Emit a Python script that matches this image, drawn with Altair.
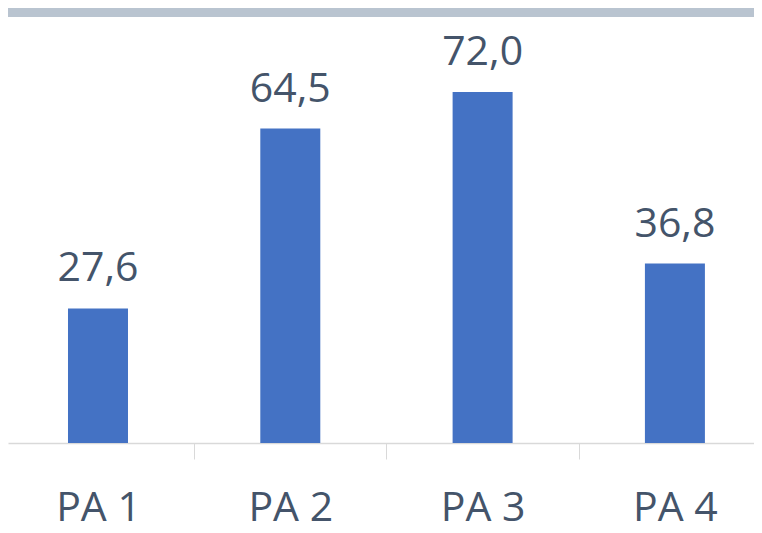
import altair as alt
import pandas as pd

categories = ["PA 1", "PA 2", "PA 3", "PA 4"]
values = [27.6, 64.5, 72.0, 36.8]
labels = [f"{v:.1f}".replace(".", ",") for v in values]

df = pd.DataFrame({"cat": categories, "val": values, "lab": labels})

W = 746
STEP = 192.3
FONT = "Open Sans"
TXT = "#44546A"

base = alt.Chart(df)

strip = alt.Chart(alt.Data(values=[{"a": 1}])).mark_rect(color="#B9C4D0").encode(
    x=alt.value(0), x2=alt.value(W), y=alt.value(-45), y2=alt.value(-36)
)

bars = base.mark_bar(color="#4472C4").encode(
    x=alt.X("cat:N", sort=categories,
            scale=alt.Scale(paddingInner=0.688, paddingOuter=0.2836, align=0.55),
            axis=alt.Axis(title=None, labelAngle=0, labelFont=FONT, labelFontSize=41,
                          labelColor=TXT, labelBaseline="alphabetic", labelPadding=61,
                          tickSize=16, tickColor="#D9D9D9", tickWidth=1,
                          domainColor="#D9D9D9", domainWidth=1.5,
                          tickOffset=STEP / 2, labelOffset=-STEP / 2,
                          grid=False)),
    y=alt.Y("val:Q", scale=alt.Scale(domain=[0, 80], nice=False), axis=None),
)

text = base.mark_text(font=FONT, fontSize=41, color=TXT, baseline="alphabetic", dy=-27).encode(
    x=alt.X("cat:N", sort=categories),
    y=alt.Y("val:Q"),
    text="lab:N",
)

chart = alt.layer(strip, bars, text).properties(
    width=W, height=390,
    autosize=alt.AutoSizeParams(type="none"),
    padding={"left": 0, "top": 45, "right": 0, "bottom": 88},
    background="white",
).configure_view(stroke=None)

chart.save("out.html", embed_options={"renderer": "svg", "actions": False})
